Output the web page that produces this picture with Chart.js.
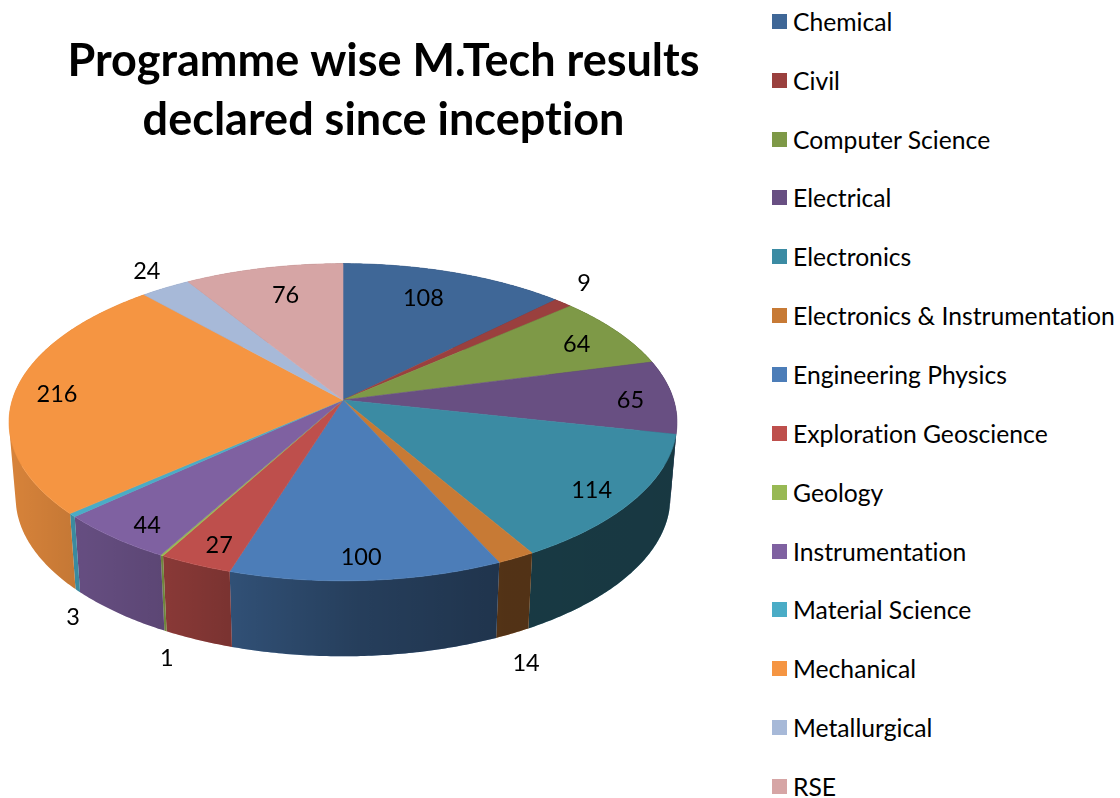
<!DOCTYPE html>
<html>
<head>
<meta charset="utf-8">
<title>Programme wise M.Tech results</title>
<script src="https://cdn.jsdelivr.net/npm/chart.js@4"></script>
<style>
    html, body { margin: 0; background: #fff; width: 1120px; height: 798px; overflow: hidden; }
    #pie { position: absolute; left: 0; top: 0; }
    #legend { position: absolute; left: 772px; top: -8px; margin: 0; padding: 0; list-style: none;
        font: 24.7px Lato, sans-serif; font-variant-ligatures: none; color: #000; }
    #legend li { height: 58.85px; display: flex; align-items: center; white-space: nowrap; }
    #legend span { width: 15px; height: 15px; margin-right: 6px; flex: none; }
</style>
</head>
<body>
<canvas id="pie" width="767" height="798"></canvas>
<ul id="legend"></ul>
<script>
// Values
const titleLines = ['Programme wise M.Tech results', 'declared since inception'];
const programmes = ['Chemical', 'Civil', 'Computer Science', 'Electrical', 'Electronics',
    'Electronics & Instrumentation', 'Engineering Physics', 'Exploration Geoscience', 'Geology',
    'Instrumentation', 'Material Science', 'Mechanical', 'Metallurgical', 'RSE'];
const results = [108, 9, 64, 65, 114, 14, 100, 27, 1, 44, 3, 216, 24, 76];
const colours = ['#3F6797', '#9A403E', '#7E9947', '#684F82', '#3B8BA3', '#C77A35', '#4C7DB8',
    '#BE4F4C', '#98B954', '#7F61A1', '#4AACC6', '#F59542', '#A7B9D8', '#D6A5A5'];

// Where each number sits: radius on the disc, then a small shift in pixels
const labelRadius = [.75, 1.1, .75, .75, .75, 1.1, .75, .75, 1.1, .75, 1.1, .75, 1.1, .75];
const labelShift = [[-6, -3], [1, -11], [25, -3], [40, 3], [35, 17], [-10, 87], [1, 27],
    [-17, 26], [26, 85], [-29, 25], [31, 89], [-40, 1], [-3, -6], [4, -3]];

// Perspective of the disc
const apexX = 343, apexY = 400, discW = 330.7, discH = 155.5, tilt = 0.14;
const wallDepth = 75.5, wallShrink = 0.98;

function project(angle, r) {
    const u = r * Math.cos(angle), v = r * Math.sin(angle);
    const w = 1 - tilt * v;
    return { x: apexX + discW * u / w, y: apexY + discH * v / w };
}

function sampleArc(start, end) {
    const steps = Math.max(2, Math.ceil((end - start) / 0.01));
    const pts = [];
    for (let i = 0; i <= steps; i++) pts.push(project(start + (end - start) * i / steps, 1));
    return pts;
}

// One path of small quads, all wound the same way so the fill is their union
function wallPath(ctx, pts) {
    ctx.beginPath();
    for (let k = 0; k < pts.length - 1; k++) {
        const a = pts[k], b = pts[k + 1];
        const c = { x: apexX + (b.x - apexX) * wallShrink, y: b.y + wallDepth };
        const d = { x: apexX + (a.x - apexX) * wallShrink, y: a.y + wallDepth };
        let quad = [a, b, c, d];
        let area = 0;
        quad.forEach((p, n) => {
            const q = quad[(n + 1) % 4];
            area += p.x * q.y - q.x * p.y;
        });
        if (area < 0) quad = quad.reverse();
        quad.forEach((p, n) => n ? ctx.lineTo(p.x, p.y) : ctx.moveTo(p.x, p.y));
        ctx.closePath();
    }
}

function wallShade(ctx) {
    const g = ctx.createLinearGradient(10, 0, 680, 0);
    g.addColorStop(0, 'rgba(0,0,0,.12)');
    g.addColorStop(0.1, 'rgba(0,0,0,.2)');
    g.addColorStop(0.23, 'rgba(0,0,0,.28)');
    g.addColorStop(0.33, 'rgba(0,0,0,.36)');
    g.addColorStop(0.52, 'rgba(0,0,0,.5)');
    g.addColorStop(0.74, 'rgba(0,0,0,.59)');
    g.addColorStop(1, 'rgba(0,0,0,.6)');
    return g;
}

const pie3d = {
    id: 'pie3d',
    beforeDraw(chart) {
        // letter spacing switches off the Lato "ti" ligature in the title
        chart.ctx.letterSpacing = '0.01px';
    },
    beforeDatasetDraw(chart) {
        const ctx = chart.ctx;
        const arcs = chart.getDatasetMeta(0).data;
        ctx.save();
        // side wall first, the top face covers whatever is behind it
        arcs.forEach((arc, i) => {
            wallPath(ctx, sampleArc(arc.startAngle, arc.endAngle));
            ctx.fillStyle = colours[i];
            ctx.fill();
            ctx.fillStyle = wallShade(ctx);
            ctx.fill();
        });
        arcs.forEach((arc, i) => {
            const pts = sampleArc(arc.startAngle, arc.endAngle);
            ctx.beginPath();
            ctx.moveTo(apexX, apexY);
            pts.forEach(p => ctx.lineTo(p.x, p.y));
            ctx.closePath();
            ctx.fillStyle = colours[i];
            ctx.strokeStyle = colours[i];
            ctx.lineWidth = 0.6;
            ctx.fill();
            ctx.stroke();
        });
        ctx.restore();
        return false;
    },
    afterDatasetsDraw(chart) {
        const ctx = chart.ctx;
        ctx.save();
        ctx.font = '23.5px Lato, sans-serif';
        ctx.fillStyle = '#000';
        ctx.textAlign = 'center';
        ctx.textBaseline = 'middle';
        chart.getDatasetMeta(0).data.forEach((arc, i) => {
            const mid = (arc.startAngle + arc.endAngle) / 2;
            const p = project(mid, labelRadius[i]);
            ctx.fillText(results[i], p.x + labelShift[i][0], p.y + labelShift[i][1]);
        });
        ctx.restore();
    }
};

new Chart(document.getElementById('pie'), {
    type: 'pie',
    data: {
        labels: programmes,
        datasets: [{ data: results, backgroundColor: colours, borderWidth: 0 }]
    },
    options: {
        responsive: false,
        animation: false,
        plugins: {
            legend: { display: false },
            tooltip: { enabled: false },
            title: {
                display: true,
                text: titleLines,
                color: '#000',
                font: { family: 'Lato, sans-serif', size: 45, weight: 'bold', lineHeight: 1.31 },
                padding: { top: 32, bottom: 0 }
            }
        }
    },
    plugins: [pie3d]
});

// Legend list beside the canvas
const legendList = document.getElementById('legend');
programmes.forEach((name, i) => {
    const row = document.createElement('li');
    row.innerHTML = `<span style="background:${colours[i]}"></span>`;
    row.appendChild(document.createTextNode(name));
    legendList.appendChild(row);
});
</script>
</body>
</html>
